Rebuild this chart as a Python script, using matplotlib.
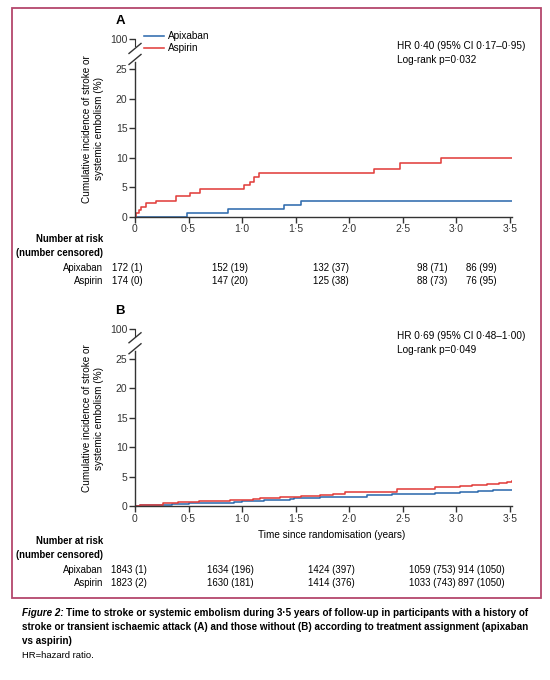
import numpy as np
import matplotlib.pyplot as plt
from matplotlib.lines import Line2D
from matplotlib.patches import Rectangle

plt.rcParams['font.family'] = ['Liberation Sans', 'DejaVu Sans']

W, H = 550, 680
BLUE = "#2f6cae"
RED = "#e2403d"
AXC = "#333333"

# panel A: history of stroke / TIA (years, cumulative %)
a_apix_t = [0, 0.485, 0.87, 1.39, 1.55, 3.52]
a_apix_y = [0, 0.57, 1.25, 1.93, 2.61, 2.61]
a_asp_t = [0, 0.013, 0.035, 0.06, 0.106, 0.193, 0.386, 0.517, 0.61, 1.014,
           1.07, 1.114, 1.157, 2.235, 2.47, 2.86, 3.52]
a_asp_y = [0, 0.57, 1.13, 1.7, 2.26, 2.72, 3.5, 4.07, 4.64, 5.44,
           5.88, 6.68, 7.36, 8.1, 9.05, 9.95, 9.95]

# panel B: no history
b_apix_t = [0, 0.05, 0.2, 0.35, 0.5, 0.76, 0.92, 1.0, 1.2, 1.45, 1.48, 1.73,
            2.17, 2.4, 2.63, 2.8, 3.03, 3.2, 3.34, 3.52]
b_apix_y = [0, 0.1, 0.25, 0.4, 0.5, 0.57, 0.7, 0.9, 1.0, 1.13, 1.42, 1.58,
            1.9, 1.98, 2.1, 2.2, 2.32, 2.5, 2.72, 2.72]
b_asp_t = [0, 0.05, 0.15, 0.26, 0.4, 0.48, 0.6, 0.75, 0.89, 1.0, 1.1, 1.17,
           1.35, 1.55, 1.73, 1.85, 1.96, 2.2, 2.45, 2.6, 2.8, 3.03, 3.15,
           3.29, 3.4, 3.47, 3.52]
b_asp_y = [0, 0.1, 0.25, 0.45, 0.6, 0.74, 0.8, 0.9, 1.0, 1.1, 1.25, 1.42,
           1.58, 1.7, 1.87, 2.1, 2.32, 2.45, 2.83, 2.95, 3.15, 3.4, 3.5,
           3.73, 3.95, 4.15, 4.24]

xticks = [0, 0.5, 1.0, 1.5, 2.0, 2.5, 3.0, 3.5]
xticklabels = ["0", "0·5", "1·0", "1·5", "2·0", "2·5", "3·0", "3·5"]
yticks = [0, 5, 10, 15, 20, 25]

a_risk_apix = ["172 (1)", "152 (19)", "132 (37)", "98 (71)", "86 (99)"]
a_risk_asp = ["174 (0)", "147 (20)", "125 (38)", "88 (73)", "76 (95)"]
b_risk_apix = ["1843 (1)", "1634 (196)", "1424 (397)", "1059 (753)", "914 (1050)"]
b_risk_asp = ["1823 (2)", "1630 (181)", "1414 (376)", "1033 (743)", "897 (1050)"]

a_stats = ["HR 0·40 (95% CI 0·17–0·95)", "Log-rank p=0·032"]
b_stats = ["HR 0·69 (95% CI 0·48–1·00)", "Log-rank p=0·049"]


def fx(x):
    return x / W


def fy(y):
    return 1 - y / H


fig = plt.figure(figsize=(5.5, 6.8), dpi=100)

# outer frame
fig.patches.append(Rectangle((fx(12), fy(598)), fx(541) - fx(12), fy(8) - fy(598),
                             transform=fig.transFigure, fill=False,
                             edgecolor="#b4466c", linewidth=1.3))

FS = 7.5
RFS = 6.9


def panel(y0, letter, apix, asp, stats, risk_apix, risk_asp, risk_x, legend, xlabel):
    x0, x1 = 135, 512
    scale = 5.89
    ytop = y0 - 26.3 * scale
    ax = fig.add_axes([fx(x0), fy(y0), fx(x1) - fx(x0), fy(ytop) - fy(y0)])
    ax.step(apix[0], apix[1], where="post", color=BLUE, lw=1.15, label="Apixaban")
    ax.step(asp[0], asp[1], where="post", color=RED, lw=1.15, label="Aspirin")
    ax.set_xlim(0, 3.52)
    ax.set_ylim(0, 26.3)
    for s in ["top", "right"]:
        ax.spines[s].set_visible(False)
    for s in ["left", "bottom"]:
        ax.spines[s].set_color(AXC)
        ax.spines[s].set_linewidth(1.0)
    ax.set_xticks(xticks)
    ax.set_xticklabels(xticklabels)
    ax.set_yticks(yticks)
    ax.tick_params(colors=AXC, labelsize=FS, length=4, width=1.0, pad=1.5)

    # top piece of the broken axis
    y100 = y0 - 25 * scale - 30
    axt = fig.add_axes([fx(x0), fy(y100 + 7), 0.01, fy(y100) - fy(y100 + 7)])
    axt.set_ylim(100 - 7 / scale, 100)
    axt.set_xticks([])
    axt.set_yticks([100])
    axt.tick_params(colors=AXC, labelsize=FS, length=4, width=1.0, pad=1.5)
    for s in ["top", "right", "bottom"]:
        axt.spines[s].set_visible(False)
    axt.spines["left"].set_color(AXC)
    axt.patch.set_visible(False)
    for yc in [y100 + 9, y100 + 20]:
        fig.add_artist(Line2D([fx(x0 - 6), fx(x0 + 6)], [fy(yc + 5), fy(yc - 5)],
                              color=AXC, lw=1.0))

    fig.text(fx(120), fy(y100 - 18), letter, fontsize=9.5, fontweight="bold",
             va="center", ha="center")
    fig.text(fx(93), fy(y0 - 88), "Cumulative incidence of stroke or\nsystemic embolism (%)",
             rotation=90, ha="center", va="center", fontsize=FS - 0.3, linespacing=1.15,
             multialignment="center")
    fig.text(fx(397), fy(y100 + 7), stats[0], fontsize=FS - 0.3, va="center")
    fig.text(fx(397), fy(y100 + 21), stats[1], fontsize=FS - 0.3, va="center")

    if legend:
        ax.legend(loc="upper left", bbox_to_anchor=(fx(144), fy(y100 - 8)),
                  bbox_transform=fig.transFigure, frameon=False, fontsize=FS - 0.3,
                  handlelength=2.0, handletextpad=0.4, labelspacing=0.2,
                  borderpad=0, borderaxespad=0)
    if xlabel:
        fig.text(fx(332), fy(y0 + 29), "Time since randomisation (years)",
                 fontsize=FS - 0.3, ha="center", va="center")

    ry = y0 + 22 + (13 if xlabel else 0)
    fig.text(fx(103), fy(ry), "Number at risk", fontsize=RFS, fontweight="bold",
             ha="right", va="center")
    fig.text(fx(103), fy(ry + 14), "(number censored)", fontsize=RFS, fontweight="bold",
             ha="right", va="center")
    fig.text(fx(103), fy(ry + 29), "Apixaban", fontsize=RFS, ha="right", va="center")
    fig.text(fx(103), fy(ry + 42), "Aspirin", fontsize=RFS, ha="right", va="center")
    for xp, s1, s2 in zip(risk_x, risk_apix, risk_asp):
        fig.text(fx(xp), fy(ry + 29), s1, fontsize=RFS, va="center")
        fig.text(fx(xp), fy(ry + 42), s2, fontsize=RFS, va="center")


panel(216.7, "A", (a_apix_t, a_apix_y), (a_asp_t, a_asp_y), a_stats,
      a_risk_apix, a_risk_asp, [112, 212, 313, 417, 466], True, False)
panel(506, "B", (b_apix_t, b_apix_y), (b_asp_t, b_asp_y), b_stats,
      b_risk_apix, b_risk_asp, [111, 207, 308, 409, 458], False, True)

# caption
fig.canvas.draw()
r = fig.canvas.get_renderer()
CFS = 7.1
t1 = fig.text(fx(22), fy(613), "Figure 2:", fontsize=CFS, fontweight="bold",
              fontstyle="italic", va="center")
bb = t1.get_window_extent(renderer=r)
fig.text(bb.x1 / W + fx(2.5), fy(613),
         "Time to stroke or systemic embolism during 3·5 years of follow-up in participants with a history of",
         fontsize=CFS, fontweight="bold", va="center")
fig.text(fx(22), fy(627),
         "stroke or transient ischaemic attack (A) and those without (B) according to treatment assignment (apixaban",
         fontsize=CFS, fontweight="bold", va="center")
fig.text(fx(22), fy(641), "vs aspirin)", fontsize=CFS, fontweight="bold", va="center")
fig.text(fx(22), fy(656), "HR=hazard ratio.", fontsize=CFS - 0.3, va="center")

fig.savefig("out.png", dpi=100)
